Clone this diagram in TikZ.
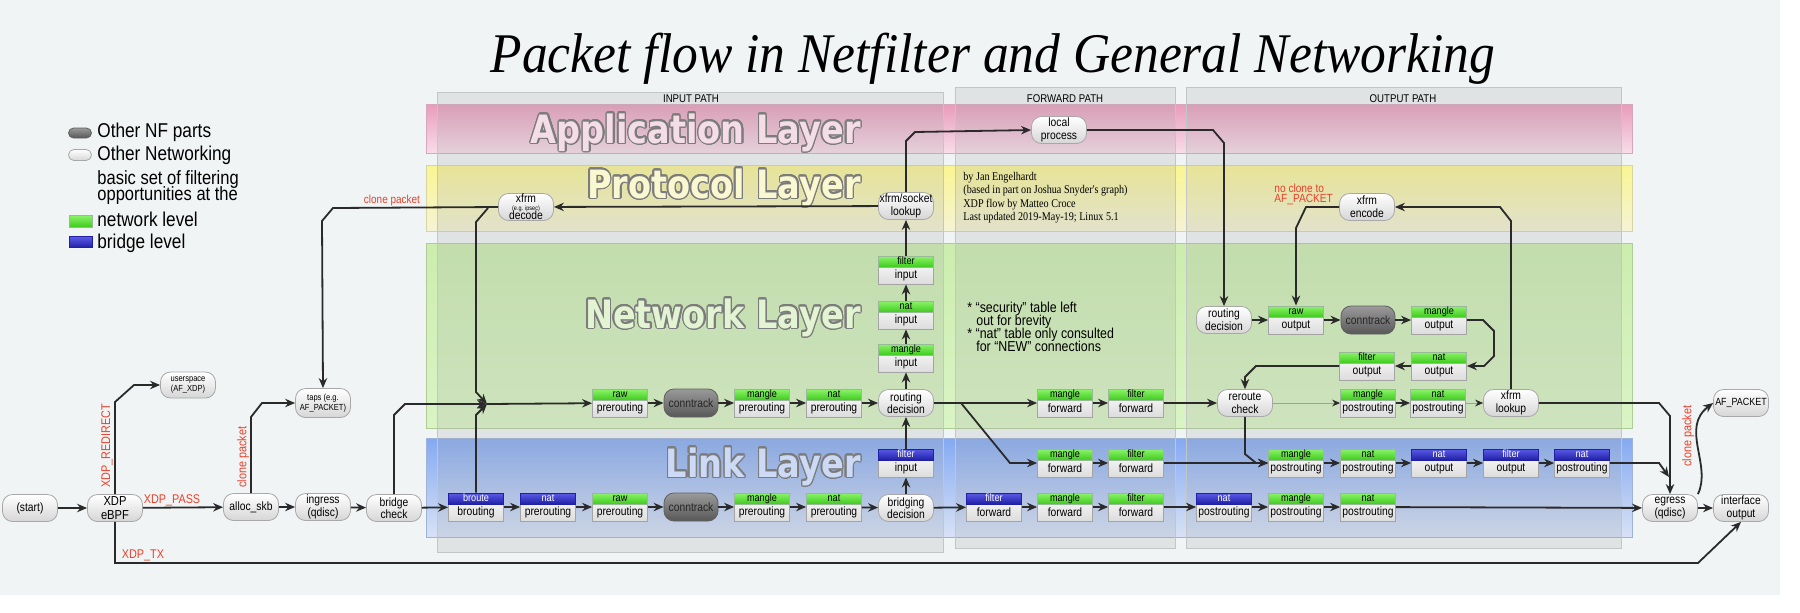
\documentclass[tikz,border=0pt]{standalone}
\usepackage{fontspec}
\setmainfont[FakeStretch=0.86]{Liberation Sans}
\newfontfamily\crfont[FakeStretch=0.86]{Liberation Serif}
\newfontfamily\ttlfont[FakeStretch=0.92]{Liberation Serif}
\newfontfamily\lyrfont[FakeStretch=0.86]{DejaVu Sans}
\usepackage[copies]{contour}
\contourlength{0.7pt}
\contournumber{20}
\usetikzlibrary{arrows.meta}
\definecolor{bgc}{HTML}{F1F4F4}
\definecolor{linec}{HTML}{2A2A2A}
\definecolor{redl}{HTML}{E8412C}
\definecolor{hg1}{HTML}{8CF46A}
\definecolor{hg2}{HTML}{3FCB1E}
\definecolor{hb1}{HTML}{5A5AE8}
\definecolor{hb2}{HTML}{2020A6}
\definecolor{hborder}{HTML}{9AB89A}
\definecolor{bborder}{HTML}{A4A4A4}
\definecolor{bbot}{HTML}{DCDCDC}
\definecolor{rborder}{HTML}{A8A8A8}
\definecolor{rbot}{HTML}{D6D6D6}
\definecolor{ctt}{HTML}{9A9A9A}
\definecolor{ctb}{HTML}{585858}
\definecolor{ctd}{HTML}{606060}
\definecolor{pk1}{HTML}{E89CBA}
\definecolor{pk2}{HTML}{F8DDE9}
\definecolor{pkb}{HTML}{D9A7BD}
\definecolor{ye1}{HTML}{FAF592}
\definecolor{ye2}{HTML}{F5F3D6}
\definecolor{yeb}{HTML}{D8D6A0}
\definecolor{gr1}{HTML}{CCEDAE}
\definecolor{gr2}{HTML}{DAF4C5}
\definecolor{grb}{HTML}{AFCB98}
\definecolor{bl1}{HTML}{84A9F2}
\definecolor{bl2}{HTML}{D8E2F5}
\definecolor{blb}{HTML}{9DB3D8}
\definecolor{colg}{HTML}{A4A8A8}
\definecolor{colb}{HTML}{C2C6C6}
\definecolor{lgray}{HTML}{7C7C7C}
\definecolor{tapp}{HTML}{F5DDE8}
\definecolor{tpro}{HTML}{FAF8D0}
\definecolor{tnet}{HTML}{E2F4D2}
\definecolor{tlnk}{HTML}{CCDAF6}
\tikzset{
  ln/.style={draw=linec, line width=0.9pt},
  arr/.style={draw=linec, line width=0.9pt, -{Stealth[length=5pt,width=4.2pt]}},
  tarr/.style={draw=gray!75, line width=0.45pt, -{Stealth[length=4pt,width=3.4pt,color=linec]}},
  rnd/.style={draw=rborder, rounded corners=5pt, top color=white, bottom color=rbot,
    minimum width=27.5pt, minimum height=13.5pt, inner sep=0pt, align=center,
    font=\fontsize{6}{6.3}\selectfont},
  ctk/.style={rnd, top color=ctt, bottom color=ctb, draw=ctd, minimum width=27pt,
    minimum height=14pt, text=black!85},
  tbody/.style={draw=bborder, top color=white, bottom color=bbot, minimum width=27.5pt,
    minimum height=14pt, inner sep=0pt},
  thdg/.style={anchor=north, draw=hborder, top color=hg1, bottom color=hg2,
    minimum width=27.5pt, minimum height=5.5pt, inner sep=0pt, text height=3.6pt,
    text depth=1pt, font=\fontsize{5.3}{5.3}\selectfont, text=black},
  thdb/.style={thdg, draw=hb2, top color=hb1, bottom color=hb2, text=white},
  btxt/.style={inner sep=0pt, font=\fontsize{6}{6}\selectfont},
  lbl/.style={text=redl, inner sep=0pt, font=\fontsize{6.3}{6.3}\selectfont},
  phdr/.style={inner sep=0pt, font=\fontsize{5.6}{5.6}\selectfont},
  lyr/.style={anchor=base east, inner sep=0pt, font=\lyrfont\bfseries\fontsize{19.5}{20}\selectfont},
  leg/.style={anchor=base west, inner sep=0pt, font=\fontsize{10}{10}\selectfont},
  note/.style={anchor=base west, inner sep=0pt, font=\fontsize{7.2}{7.2}\selectfont},
  cred/.style={anchor=base west, inner sep=0pt, font=\crfont\fontsize{5.9}{5.9}\selectfont},
}
\newcommand\tbx[5]{%
  \node[tbody] (#1) at (#2) {};
  \node[thd#3] (#1h) at (#1.north) {#4};
  \node[btxt] (#1t) at ([yshift=-2.75pt]#1.center) {#5};
}
\begin{document}
\begin{tikzpicture}[x=0.5pt,y=-0.5pt]
\useasboundingbox (0,0) rectangle (1800,612);
\fill[white] (0,0) rectangle (1800,612);
\fill[bgc] (0,0) rectangle (1780,595);

% title
\node[anchor=base, inner sep=0pt, font=\ttlfont\fontsize{28}{30}\selectfont\itshape] (title) at (993,72) {Packet flow in Netfilter and General Networking};

% layer bands
\path[draw=pkb, top color=pk1, bottom color=pk2] (426,104) rectangle (1632,153);
\path[draw=yeb, top color=ye1, bottom color=ye2] (426,165) rectangle (1632,231);
\path[draw=grb, top color=gr1, bottom color=gr2] (426,243) rectangle (1632,428);
\path[draw=blb, top color=bl1, bottom color=bl2] (426,438) rectangle (1632,537);

% path columns
\path[fill=colg, fill opacity=0.22, draw=colb] (437,92) rectangle (943,552);
\path[fill=colg, fill opacity=0.22, draw=colb] (955,87) rectangle (1175,548);
\path[fill=colg, fill opacity=0.22, draw=colb] (1186,87) rectangle (1621,548);
\node[phdr] (hin) at (691,99) {INPUT PATH};
\node[phdr] (hfw) at (1065,99) {FORWARD PATH};
\node[phdr] (hout) at (1403,99) {OUTPUT PATH};

% layer titles
\node[lyr, text=tapp] (lapp) at (861,143) {\contour{lgray}{Application Layer}};
\node[lyr, text=tpro] (lpro) at (861,198) {\contour{lgray}{Protocol Layer}};
\node[lyr, text=tnet] (lnet) at (861,328) {\contour{lgray}{Network Layer}};
\node[lyr, text=tlnk] (llnk) at (861,477) {\contour{lgray}{Link Layer}};

% legend
\node[ctk, minimum width=11.5pt, minimum height=5pt, rounded corners=2.5pt] (lg1) at (80,133) {};
\node[rnd, minimum width=11.5pt, minimum height=5.5pt, rounded corners=2.7pt] (lg2) at (80,155) {};
\node[draw=hborder, top color=hg1, bottom color=hg2, minimum width=11.5pt, minimum height=6pt, inner sep=0pt] (lg3) at (80.5,221) {};
\node[draw=hb2, top color=hb1, bottom color=hb2, minimum width=11.5pt, minimum height=5.5pt, inner sep=0pt] (lg4) at (80.5,242) {};
\node[leg] (lt1) at (97,137) {Other NF parts};
\node[leg] (lt2) at (97,160) {Other Networking};
\node[leg, font=\fontsize{9.6}{9.6}\selectfont] (lt3) at (97,184) {basic set of filtering};
\node[leg, font=\fontsize{9.6}{9.6}\selectfont] (lt4) at (97,200) {opportunities at the};
\node[leg] (lt5) at (97,226) {network level};
\node[leg] (lt6) at (97,248) {bridge level};

% credits and notes
\node[cred] (c1) at (963,180) {by Jan Engelhardt};
\node[cred] (c2) at (963,193) {(based in part on Joshua Snyder's graph)};
\node[cred] (c3) at (963,207) {XDP flow by Matteo Croce};
\node[cred] (c4) at (963,220) {Last updated 2019-May-19; Linux 5.1};
\node[note] (n1) at (967,312) {* “security” table left};
\node[note] (n2) at (976,325) {out for brevity};
\node[note] (n3) at (967,338) {* “nat” table only consulted};
\node[note] (n4) at (976,351) {for “NEW” connections};

% left nodes
\node[rnd] (start) at (30,508) {(start)};
\node[rnd, font=\fontsize{6.5}{6.6}\selectfont] (xdp) at (115,508) {XDP\\eBPF};
\node[rnd, minimum height=13pt, font=\fontsize{4.4}{5}\selectfont] (afxdp) at (188,385) {userspace\\(AF\_XDP)};
\node[rnd] (alloc) at (251,507) {alloc\_skb};
\node[rnd] (ingress) at (323,507) {ingress\\(qdisc)};
\node[rnd] (bcheck) at (394,508) {bridge\\check};
\node[rnd, minimum height=14.5pt, font=\fontsize{4.4}{5}\selectfont] (taps) at (323,403) {taps (e.g.\\AF\_PACKET)};
\node[rnd, font=\fontsize{6}{5.2}\selectfont] (xdec) at (526,207) {xfrm\\[-1.5pt]{\fontsize{3.2}{3.2}\selectfont (e.g. ipsec)}\\[-0.5pt]decode};
\node[rnd] (xsock) at (906,206) {xfrm/socket\\lookup};

% input path, network row
\tbx{rawp}{620,403}{g}{raw}{prerouting}
\node[ctk] (ct1) at (691,403) {conntrack};
\tbx{mpre}{762,403}{g}{mangle}{prerouting}
\tbx{npre}{834,403}{g}{nat}{prerouting}
\node[rnd] (rdec) at (906,403) {routing\\decision};
\tbx{min}{906,358}{g}{mangle}{input}
\tbx{nin}{906,315}{g}{nat}{input}
\tbx{fin}{906,270}{g}{filter}{input}

% input path, link row
\tbx{brout}{476,507}{b}{broute}{brouting}
\tbx{bnat}{548,507}{b}{nat}{prerouting}
\tbx{lraw}{620,507}{g}{raw}{prerouting}
\node[ctk] (ct2) at (691,507) {conntrack};
\tbx{lmpre}{762,507}{g}{mangle}{prerouting}
\tbx{lnpre}{834,507}{g}{nat}{prerouting}
\node[rnd] (bdec) at (906,508) {bridging\\decision};
\tbx{bfin}{906,463}{b}{filter}{input}

% forward path
\node[rnd] (lproc) at (1059,130) {local\\process};
\tbx{fmf}{1065,403}{g}{mangle}{forward}
\tbx{fff}{1136,403}{g}{filter}{forward}
\tbx{lmf}{1065,463}{g}{mangle}{forward}
\tbx{lff}{1136,463}{g}{filter}{forward}
\tbx{bff}{994,507}{b}{filter}{forward}
\tbx{bmf}{1065,507}{g}{mangle}{forward}
\tbx{bfff}{1136,507}{g}{filter}{forward}

% output path
\node[rnd] (xenc) at (1367,207) {xfrm\\encode};
\node[rnd] (ordec) at (1224,320) {routing\\decision};
\tbx{rawo}{1296,320}{g}{raw}{output}
\node[ctk] (ct3) at (1368,320) {conntrack};
\tbx{mo}{1439,320}{g}{mangle}{output}
\tbx{no}{1439,366}{g}{nat}{output}
\tbx{fo}{1367,366}{g}{filter}{output}
\node[rnd] (rr) at (1245,403) {reroute\\check};
\tbx{mpo}{1368,403}{g}{mangle}{postrouting}
\tbx{npo}{1438,403}{g}{nat}{postrouting}
\node[rnd] (xlook) at (1511,403) {xfrm\\lookup};
\tbx{lmpo}{1296,463}{g}{mangle}{postrouting}
\tbx{lnpo}{1368,463}{g}{nat}{postrouting}
\tbx{lno}{1439,463}{b}{nat}{output}
\tbx{lfo}{1511,463}{b}{filter}{output}
\tbx{lnpo2}{1582,463}{b}{nat}{postrouting}
\tbx{lnp}{1224,507}{b}{nat}{postrouting}
\tbx{lmpo2}{1296,507}{g}{mangle}{postrouting}
\tbx{lnpo3}{1368,507}{g}{nat}{postrouting}
\node[rnd] (egress) at (1670,508) {egress\\(qdisc)};
\node[rnd] (ifout) at (1741,508) {interface\\output};
\node[rnd, font=\fontsize{5.2}{5.5}\selectfont] (afp) at (1741,403) {AF\_PACKET};

% helper coordinates
\coordinate (mrg) at (487,404);
\coordinate (dsp) at (488,208);
\coordinate (fbr) at (961,403);
\coordinate (egm) at (1669,477);

% connectors: left part
\draw[arr] (start) -- (xdp);
\draw[arr] (xdp) -- (alloc);
\draw[arr] (xdp.north) -- (115,402) -- (134,385) -- (afxdp.west);
\draw[arr] (alloc) -- (ingress);
\draw[arr] (ingress) -- (bcheck);
\draw[arr] (alloc.north) -- (251,417) -- (262,403) -- (taps.west);
\draw[arr] (bcheck) -- (brout);
\draw[arr] (bcheck.north) -- (394,415) -- (405,404) -- (mrg);
\draw[arr] (brout.north) -- (476,415) -- (mrg);
\draw[arr] (xdec.west) -- (333,208) -- (322,221) -- (taps.north);
\draw[arr] (dsp) -- (476,222) -- (476,392) -- (mrg);
\draw[arr] (mrg) -- (rawp);
\draw[arr] (xdp.south) -- (115,563) -- (1698,563) -- (ifout.south);

% input network row
\draw[arr] (rawp) -- (ct1);
\draw[arr] (ct1) -- (mpre);
\draw[arr] (mpre) -- (npre);
\draw[arr] (npre) -- (rdec);
\draw[arr] (rdec) -- (min);
\draw[arr] (min) -- (nin);
\draw[arr] (nin) -- (fin);
\draw[arr] (fin) -- (xsock);
\draw[arr] (xsock) -- (xdec);
\draw[arr] (xsock.north) -- (906,141) -- (915,132) -- (lproc.west);
\draw[arr] (lproc.east) -- (1213,130) -- (1224,143) -- (ordec.north);

% input link row
\draw[arr] (brout) -- (bnat);
\draw[arr] (bnat) -- (lraw);
\draw[arr] (lraw) -- (ct2);
\draw[arr] (ct2) -- (lmpre);
\draw[arr] (lmpre) -- (lnpre);
\draw[arr] (lnpre) -- (bdec);
\draw[arr] (bdec) -- (bfin);
\draw[arr] (bfin) -- (rdec);

% forward
\draw[arr] (rdec) -- (fmf);
\draw[arr] (fmf) -- (fff);
\draw[arr] (fff) -- (rr);
\draw[arr] (fbr) -- (1010,463) -- (lmf.west);
\draw[arr] (lmf) -- (lff);
\draw[arr] (lff) -- (lmpo);
\draw[arr] (bdec) -- (bff);
\draw[arr] (bff) -- (bmf);
\draw[arr] (bmf) -- (bfff);
\draw[arr] (bfff) -- (lnp);

% output
\draw[arr] (ordec) -- (rawo);
\draw[arr] (rawo) -- (ct3);
\draw[arr] (ct3) -- (mo);
\draw[arr] (mo.east) -- (1483,320) -- (1494,331) -- (1494,356) -- (1484,366) -- (no.east);
\draw[arr] (no) -- (fo);
\draw[arr] (fo.west) -- (1256,366) -- (1245,377) -- (rr.north);
\draw[tarr] (rr) -- (mpo);
\draw[arr] (mpo) -- (npo);
\draw[tarr] (npo) -- (xlook);
\draw[arr] (rr.south) -- (1245,454) -- (1256,463) -- (lmpo.west);
\draw[arr] (xlook.north) -- (1511,221) -- (1500,207) -- (xenc.east);
\draw[arr] (xenc.west) -- (1306,207) -- (1296,228) -- (rawo.north);
\draw[arr] (xlook.east) -- (1659,403) -- (1670,416) -- (egress.north);
\draw[arr] (lmpo) -- (lnpo);
\draw[arr] (lnpo) -- (lno);
\draw[arr] (lno) -- (lfo);
\draw[arr] (lfo) -- (lnpo2);
\draw[arr] (lnpo2.east) -- (1659,463) -- (egm);
\draw[arr] (lnp) -- (lmpo2);
\draw[arr] (lmpo2) -- (lnpo3);
\draw[arr] (lnpo3) -- (egress);
\draw[arr] (egress) -- (ifout);
\draw[arr] (egress.north east) .. controls (1712,465) and (1680,428) .. (afp.west);

% red labels
\node[lbl, rotate=90] (lredir) at (107,446) {XDP\_REDIRECT};
\node[lbl] (lpass) at (172,500) {XDP\_PASS};
\node[lbl, rotate=90] (lclone1) at (243,457) {clone packet};
\node[lbl] (ltx) at (143,555) {XDP\_TX};
\node[lbl, font=\fontsize{5.8}{5.8}\selectfont] (lclone2) at (392,200) {clone packet};
\node[lbl, anchor=west, font=\fontsize{5.9}{5.9}\selectfont] (lnc1) at (1274,188) {no clone to};
\node[lbl, anchor=west, font=\fontsize{5.9}{5.9}\selectfont] (lnc2) at (1274,200) {AF\_PACKET};
\node[lbl, rotate=90] (lclone3) at (1688,436) {clone packet};
\end{tikzpicture}
\end{document}
